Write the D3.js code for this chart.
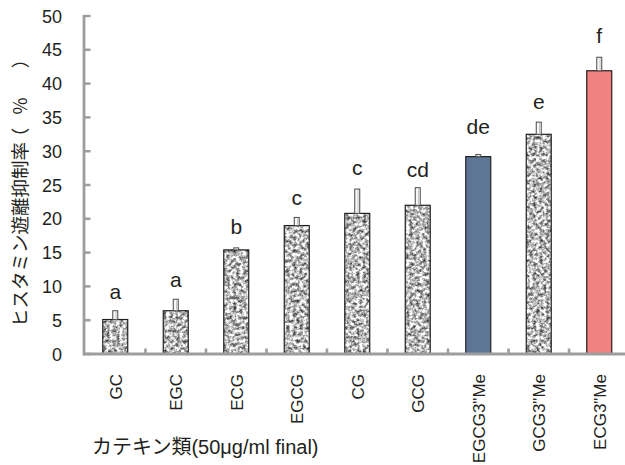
<!DOCTYPE html>
<html><head><meta charset="utf-8">
<script src="https://cdn.jsdelivr.net/npm/d3@7"></script>
<style>
body{margin:0;background:#fff;}
text{font-family:"Liberation Sans",Arial,"Noto Sans CJK JP",sans-serif;fill:#231f20;}
</style></head><body>
<svg id="c" width="625" height="465"></svg>
<script>
const categories = ["GC","EGC","ECG","EGCG","CG","GCG","EGCG3\"Me","GCG3\"Me","ECG3\"Me"];
const values = [5.1, 6.4, 15.4, 19.0, 20.8, 22.0, 29.2, 32.5, 41.9];
const errors = [1.3, 1.7, 0.3, 1.2, 3.6, 2.6, 0.3, 1.8, 2.0];
const letters = ["a","a","b","c","c","cd","de","e","f"];
const letterY = [8.1, 9.95, 17.75, 22.0, 26.5, 26.2, 32.6, 36.2, 46.0];
const yTicks = [0,5,10,15,20,25,30,35,40,45,50];
const yTitleMain = "ヒスタミン遊離抑制率";
const yTitleUnit = ["（","％","）"];
const xTitle = "カテキン類(50μg/ml final)";

const svg = d3.select("#c");
const defs = svg.append("defs");
const f = defs.append("filter").attr("id","granite")
  .attr("x",0).attr("y",0).attr("width",1).attr("height",1)
  .attr("color-interpolation-filters","sRGB");
f.append("feTurbulence").attr("type","fractalNoise").attr("baseFrequency",0.3)
  .attr("numOctaves",3).attr("seed",11).attr("result","n");
const k=1.6, c0=0.73;
const row=`${k} 0 0 0 ${c0-0.5*k}`;
f.append("feColorMatrix").attr("in","n").attr("type","matrix")
  .attr("values",`${row} ${row} ${row} 0 0 0 0 1`).attr("result","g");
f.append("feComposite").attr("in","g").attr("in2","SourceGraphic").attr("operator","in");

const x = d3.scaleBand().domain(categories).range([85, 629.5]).paddingInner(0.587).paddingOuter(0.2935);
const y = d3.scaleLinear().domain([0,50]).range([354,16]);
const axisColor = "#9d9d9f";

// y axis
svg.append("line").attr("x1",84).attr("x2",84).attr("y1",y(50)-1).attr("y2",y(0)+1.5)
  .attr("stroke",axisColor).attr("stroke-width",2.8);
svg.selectAll(".yt").data(yTicks).join("line")
  .attr("x1",84).attr("x2",90.5).attr("y1",d=>y(d)).attr("y2",d=>y(d))
  .attr("stroke",axisColor).attr("stroke-width",2.5);
svg.selectAll(".yl").data(yTicks).join("text")
  .attr("x",62).attr("y",d=>y(d)+6.5).attr("text-anchor","end")
  .attr("font-size",18).text(d=>d);

// bars
const colorFor = c => c==="EGCG3\"Me" ? "#5d7696" : (c==="ECG3\"Me" ? "#f2827f" : null);
const bw = x.bandwidth();
categories.forEach((c,i)=>{
  const x0=x(c), yt=y(values[i]), h=y(0)-yt;
  const col=colorFor(c);
  if(col){
    svg.append("rect").attr("x",x0).attr("y",yt).attr("width",bw).attr("height",h)
      .attr("fill",col).attr("stroke","#231f20").attr("stroke-width",1.2);
  } else {
    svg.append("rect").attr("x",x0).attr("y",yt).attr("width",bw).attr("height",h)
      .attr("fill","#fff").attr("filter","url(#granite)");
    svg.append("rect").attr("x",x0).attr("y",yt).attr("width",bw).attr("height",h)
      .attr("fill","none").attr("stroke","#231f20").attr("stroke-width",1.2);
  }
  const cx=x0+bw/2, ye=y(values[i]+errors[i]);
  svg.append("rect").attr("x",cx-2.5).attr("y",ye).attr("width",5).attr("height",Math.max(0.5,yt-ye))
    .attr("fill","#f7f7f7").attr("stroke","#4a4a4a").attr("stroke-width",1);
  svg.append("line").attr("x1",cx+0.8).attr("x2",cx+0.8).attr("y1",ye+1).attr("y2",yt)
    .attr("stroke","#b8b8b8").attr("stroke-width",0.8);
  svg.append("text").attr("x",cx).attr("y",y(letterY[i])).attr("text-anchor","middle")
    .attr("font-size",21).text(letters[i]);
});

// x axis
svg.append("line").attr("x1",84).attr("x2",625).attr("y1",354).attr("y2",354)
  .attr("stroke",axisColor).attr("stroke-width",2.8);
const bounds = categories.map(c=>x(c)+bw+x.step()*x.paddingInner()/2);
svg.selectAll(".xt").data(bounds).join("line")
  .attr("x1",d=>d).attr("x2",d=>d).attr("y1",354).attr("y2",348.5)
  .attr("stroke",axisColor).attr("stroke-width",2.6);
svg.selectAll(".xl").data(categories).join("text")
  .attr("transform",d=>`translate(${x(d)+bw/2+6.5},374) rotate(-90)`)
  .attr("text-anchor","end").attr("font-size",17).text(d=>d);

// titles
const yt = svg.append("g").attr("transform","translate(27,0) rotate(-90)")
  .style("font-family","'Noto Sans CJK JP',sans-serif");
yt.append("text").attr("x",-327).attr("y",0).attr("font-size",18.5).text(yTitleMain);
const unitPos = [137,106,59];
yt.selectAll(".u").data(yTitleUnit).join("text")
  .attr("x",(d,i)=>-unitPos[i]).attr("y",0).attr("text-anchor","middle")
  .attr("font-size",18.5).text(d=>d);
svg.append("text").attr("x",92).attr("y",454).attr("font-size",20).text(xTitle);
</script></body></html>
